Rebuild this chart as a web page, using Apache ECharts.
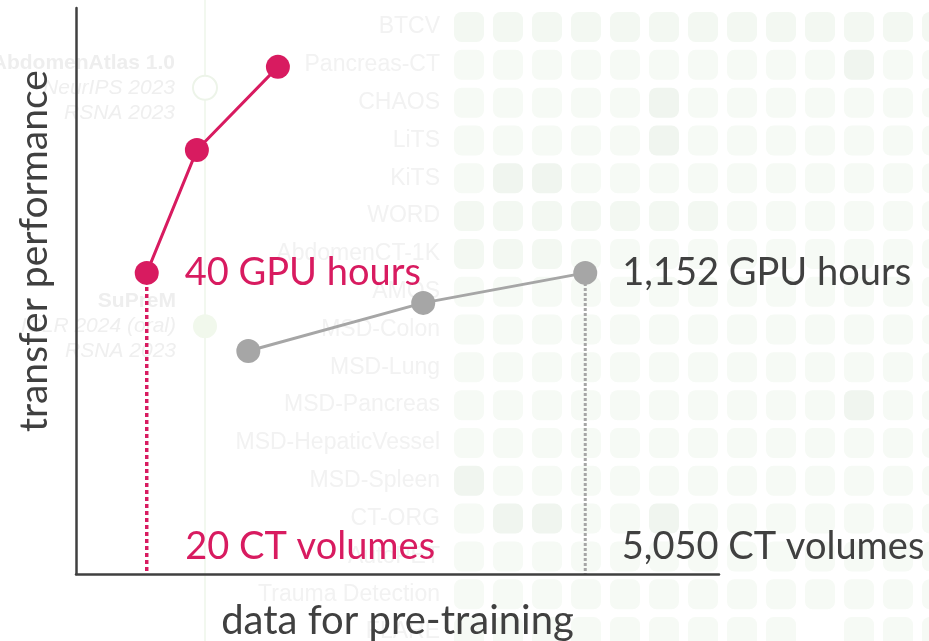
<!DOCTYPE html>
<html>
<head>
<meta charset="utf-8">
<script src="https://cdn.jsdelivr.net/npm/echarts@6/dist/echarts.min.js"></script>
<style>
html,body{margin:0;padding:0;background:#fff;}
#chart{width:929px;height:641px;}
</style>
</head>
<body>
<div id="chart"></div>
<script>
// ---- main chart data (arbitrary 0-100 units) ----
const redX = [11.0, 18.8, 31.4];
const redY = [53.2, 74.9, 89.6];
const grayX = [26.8, 54.0, 79.2];
const grayY = [39.4, 47.9, 53.2];
const gpuLabels = ['40 GPU hours', '1,152 GPU hours'];
const volumeLabels = ['20 CT volumes', '5,050 CT volumes'];
const xAxisTitle = 'data for pre-training';
const yAxisTitle = 'transfer performance';

// ---- faded background: dataset rows x columns of cells ----
const datasets = ['BTCV','Pancreas-CT','CHAOS','LiTS','KiTS','WORD','AbdomenCT-1K','AMOS',
  'MSD-Colon','MSD-Lung','MSD-Pancreas','MSD-HepaticVessel','MSD-Spleen','CT-ORG',
  'AutoPET','Trauma Detection','FLARE'];
const cellLevels = [
  [2,2,2,2,2,2,2,2,2,2,2,2,2],
  [1,1,1,1,1,1,1,1,1,1,3,1,1],
  [1,1,1,1,1,3,1,1,1,1,1,1,1],
  [1,1,1,1,1,3,1,1,1,1,1,1,1],
  [1,3,3,1,1,1,1,1,1,1,1,1,1],
  [2,2,2,2,2,2,2,1,1,1,1,1,1],
  [2,2,2,1,1,1,1,1,1,1,1,1,1],
  [1,1,1,1,1,1,1,1,1,1,1,1,1],
  [1,1,1,1,1,1,1,1,1,1,1,1,1],
  [1,1,1,1,1,1,1,1,1,1,1,1,1],
  [1,1,1,1,1,1,1,1,1,1,3,1,1],
  [1,1,1,1,1,1,1,1,1,1,1,1,1],
  [3,1,1,1,1,1,1,1,1,1,1,1,1],
  [1,3,3,1,1,3,1,1,1,1,1,1,1],
  [1,1,1,1,1,1,1,1,1,1,1,1,1],
  [1,1,1,1,1,1,1,1,1,1,1,1,1],
  [1,1,1,1,1,1,1,1,1,0,1,1,1]
];
const levelColors = ['#ffffff', '#f6faf5', '#f3f8f2', '#f0f5ef'];

// ---- faded background: model timeline ----
const models = ['AbdomenAtlas 1.0', 'SuPreM'];
const modelVenues = [['NeurIPS 2023', 'RSNA 2023'], ['ICLR 2024 (oral)', 'RSNA 2023']];
const modelPos = [13.7, 50.9];
const modelFilled = [false, true];

const RED = '#d81b60';
const GRAY = '#a6a6a6';
const DARK = '#404040';
const FAINT_TEXT = '#f2f2f2';
const FONT = 'Lato, "Noto Sans", sans-serif';
const ARIAL = '"Liberation Sans", Arial, sans-serif';

const cellData = [];
cellLevels.forEach((row, r) => row.forEach((lv, c) => {
  if (lv > 0) cellData.push({ value: [c, datasets[r]], itemStyle: { color: levelColors[lv] } });
}));

const modelData = models.map((m, i) => ({
  value: ['models', modelPos[i]],
  itemStyle: modelFilled[i]
    ? { color: '#f1f8ec', opacity: 1 }
    : { color: '#ffffff', borderColor: '#edf4e9', borderWidth: 2, opacity: 1 },
  label: {
    formatter: '{b|' + m + '}\n' + modelVenues[i].map(v => '{i|' + v + '}').join('\n')
  }
}));

const chart = echarts.init(document.getElementById('chart'), null, { renderer: 'canvas' });

chart.setOption({
  animation: false,
  backgroundColor: '#ffffff',
  grid: [
    { left: 76, top: 8, width: 643, height: 566, outerBoundsMode: 'none', containLabel: false },  // main
    { left: 469, top: 27, right: 0, bottom: 9, outerBoundsMode: 'none', containLabel: false },    // background cells
    { left: 190, top: 0, width: 30, height: 641, outerBoundsMode: 'none', containLabel: false }   // background timeline
  ],
  xAxis: [
    {
      gridIndex: 0, type: 'value', min: 0, max: 100, z: 10,
      axisLine: { show: true, lineStyle: { color: DARK, width: 2.5 } },
      axisTick: { show: false }, axisLabel: { show: false }, splitLine: { show: false },
      name: xAxisTitle, nameLocation: 'middle', nameGap: 27,
      nameTextStyle: { fontFamily: FONT, fontSize: 40, color: DARK }
    },
    {
      gridIndex: 1, type: 'value', min: 0, max: 11.795, show: false
    },
    {
      gridIndex: 2, type: 'category', data: ['models'], show: false
    }
  ],
  yAxis: [
    {
      gridIndex: 0, type: 'value', min: 0, max: 100, z: 10,
      axisLine: { show: true, lineStyle: { color: DARK, width: 2.5 } },
      axisTick: { show: false }, axisLabel: { show: false }, splitLine: { show: false },
      name: yAxisTitle, nameLocation: 'middle', nameGap: 22,
      nameTextStyle: { fontFamily: FONT, fontSize: 39, color: DARK, padding: [0, 0, 0, 80] }
    },
    {
      gridIndex: 1, type: 'category', data: datasets, inverse: true, boundaryGap: false,
      axisLine: { show: false }, axisTick: { show: false }, splitLine: { show: false },
      axisLabel: { show: true, interval: 0, margin: 29, color: FAINT_TEXT,
        fontFamily: ARIAL, fontSize: 23 }
    },
    {
      gridIndex: 2, type: 'value', min: 0, max: 100, inverse: true, show: false
    }
  ],
  series: [
    // background cells
    {
      type: 'scatter', xAxisIndex: 1, yAxisIndex: 1, z: 0, silent: true, clip: false,
      symbol: 'roundRect', symbolSize: 30, itemStyle: { opacity: 1 }, data: cellData
    },
    // background timeline line
    {
      type: 'line', xAxisIndex: 2, yAxisIndex: 2, z: 0, silent: true,
      symbol: 'none', lineStyle: { color: '#f2f8ef', width: 2 },
      data: [['models', 0], ['models', 100]]
    },
    // background model markers + labels
    {
      type: 'scatter', xAxisIndex: 2, yAxisIndex: 2, z: 1, silent: true,
      symbolSize: 24, data: modelData,
      label: {
        show: true, position: 'left', distance: 17, align: 'right',
        rich: {
          b: { fontFamily: ARIAL, fontWeight: 'bold', fontSize: 21, lineHeight: 25, color: '#eeeeee', align: 'right' },
          i: { fontFamily: ARIAL, fontStyle: 'italic', fontSize: 21, lineHeight: 25, color: '#efefef', align: 'right' }
        }
      }
    },
    // drop lines
    {
      type: 'line', z: 3, symbol: 'none',
      lineStyle: { color: RED, width: 3.5, type: [4, 3] },
      data: [[redX[0], redY[0]], [redX[0], 0]]
    },
    {
      type: 'line', z: 3, symbol: 'none',
      lineStyle: { color: GRAY, width: 3, type: [3, 2] },
      data: [[grayX[2], grayY[2]], [grayX[2], 0]]
    },
    // red series
    {
      type: 'line', z: 5, symbol: 'circle', symbolSize: 24,
      itemStyle: { color: RED }, lineStyle: { color: RED, width: 3 },
      data: redX.map((x, i) => [x, redY[i]]),
      label: {
        show: true, position: 'right', distance: 26,
        fontFamily: FONT, fontSize: 38, color: RED,
        formatter: p => p.dataIndex === 0 ? gpuLabels[0] : ''
      }
    },
    // gray series
    {
      type: 'line', z: 5, symbol: 'circle', symbolSize: 24,
      itemStyle: { color: GRAY }, lineStyle: { color: GRAY, width: 3 },
      data: grayX.map((x, i) => [x, grayY[i]]),
      label: {
        show: true, position: 'right', distance: 25,
        fontFamily: FONT, fontSize: 38, color: DARK,
        formatter: p => p.dataIndex === grayX.length - 1 ? gpuLabels[1] : ''
      }
    },
    // volume labels anchored at the drop-line feet
    {
      type: 'scatter', z: 6, symbolSize: 1, silent: true,
      itemStyle: { color: 'rgba(0,0,0,0)', opacity: 1 },
      data: [
        { value: [redX[0], 0], label: { color: RED, distance: 38 } },
        { value: [grayX[2], 0], label: { color: DARK, distance: 36 } }
      ],
      label: {
        show: true, position: 'right', offset: [0, -27],
        fontFamily: FONT, fontSize: 38,
        formatter: p => volumeLabels[p.dataIndex]
      }
    }
  ]
});
</script>
</body>
</html>
